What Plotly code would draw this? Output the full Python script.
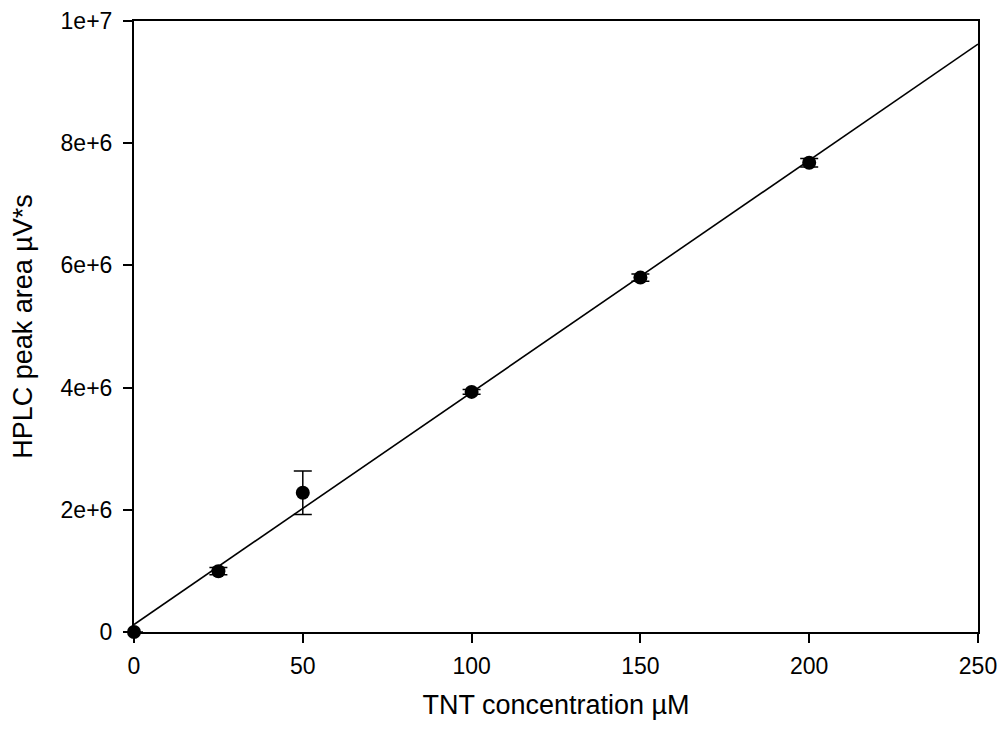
import numpy as np
import plotly.graph_objects as go

# Data
conc = [0, 25, 50, 100, 150, 200]
area = [0.0, 0.995e6, 2.28e6, 3.93e6, 5.80e6, 7.68e6]
err = [0.0, 0.06e6, 0.355e6, 0.04e6, 0.06e6, 0.07e6]

x_ticks = [0, 50, 100, 150, 200, 250]
y_ticks = [0, 2e6, 4e6, 6e6, 8e6, 1e7]
y_ticktext = ["0", "2e+6", "4e+6", "6e+6", "8e+6", "1e+7"]

x_range = [0, 250]
y_range = [0, 1e7]

# Linear regression from the data
slope, intercept = np.polyfit(conc, area, 1)
fit_x = [x_range[0], x_range[1]]
fit_y = [intercept + slope * v for v in fit_x]

FONT = "Liberation Sans, Arial, sans-serif"

fig = go.Figure()
fig.add_trace(go.Scatter(
    x=fit_x, y=fit_y, mode="lines",
    line=dict(color="black", width=1.6),
    showlegend=False, hoverinfo="skip", cliponaxis=True,
))
fig.add_trace(go.Scatter(
    x=conc, y=area, mode="markers",
    marker=dict(color="black", size=14, line=dict(width=0)),
    error_y=dict(type="data", array=err, visible=True, color="black",
                 thickness=1.5, width=9),
    showlegend=False, cliponaxis=False,
))

fig.update_layout(
    width=999, height=731,
    margin=dict(l=134, r=21, t=21, b=99),
    paper_bgcolor="white", plot_bgcolor="white",
    font=dict(family=FONT, color="black", size=23),
)
fig.update_xaxes(
    range=x_range, tickvals=x_ticks, ticktext=[str(v) for v in x_ticks],
    showgrid=False, zeroline=False, automargin=False,
    showline=True, linecolor="black", linewidth=2, mirror=True,
    ticks="outside", ticklen=9, tickwidth=1.5, tickcolor="black",
    tickfont=dict(size=23), ticklabelstandoff=3,
    title=dict(text="TNT concentration µM", font=dict(size=27), standoff=18),
)
fig.update_yaxes(
    range=y_range, tickvals=y_ticks, ticktext=y_ticktext,
    showgrid=False, zeroline=False, automargin=False,
    showline=True, linecolor="black", linewidth=2, mirror=True,
    ticks="outside", ticklen=9, tickwidth=1.5, tickcolor="black",
    tickfont=dict(size=23), ticklabelstandoff=6,
    title=dict(text="HPLC peak area µV*s", font=dict(size=27), standoff=20),
)

fig.write_html("out.html")
